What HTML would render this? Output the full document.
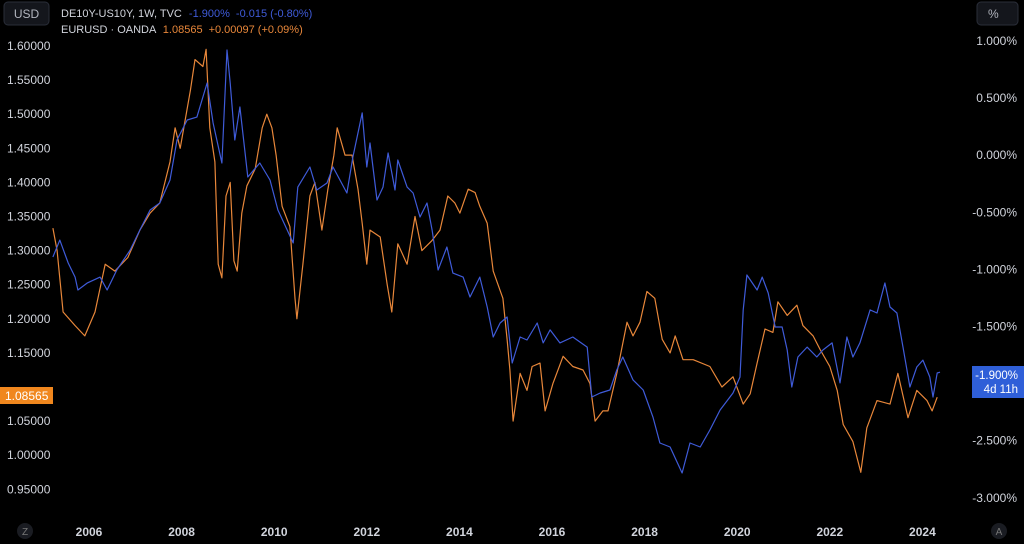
<!DOCTYPE html>
<html><head><meta charset="utf-8"><style>
html,body{margin:0;padding:0;background:#000;}
svg{display:block;font-family:"Liberation Sans",sans-serif;}
</style></head><body>
<svg id="chart" width="1024" height="544" viewBox="0 0 1024 544">
<rect x="0" y="0" width="1024" height="544" fill="#000"/>
<g id="ticks"></g>
<g id="series"></g>
<g>
<rect x="4" y="2" width="45" height="23" rx="4" fill="#14161c" stroke="#2a2e39"/>
<text x="26.5" y="18" text-anchor="middle" font-size="12" fill="#b2b5be">USD</text></g>
<g>
<rect x="977" y="2" width="41" height="23" rx="4" fill="#14161c" stroke="#2a2e39"/>
<text x="988" y="18" font-size="12" fill="#b2b5be">%</text></g>
<g font-size="11">
<text x="61" y="17" fill="#d1d4dc">DE10Y-US10Y, 1W, TVC <tspan fill="#3f5bd9" dx="4">-1.900%</tspan><tspan fill="#3f5bd9" dx="6">-0.015 (-0.80%)</tspan></text>
<text x="61" y="33" fill="#d1d4dc">EURUSD · OANDA <tspan fill="#e8873a" dx="4">1.08565</tspan><tspan fill="#e8873a" dx="6">+0.00097 (+0.09%)</tspan></text>
</g>
<g>
<rect x="0" y="387" width="53" height="17" fill="#f0871e"/>
<text x="5" y="400" font-size="12" fill="#fff">1.08565</text></g>
<g>
<rect x="972" y="366" width="52" height="32" fill="#2f5fd8"/>
<text x="1018" y="379" text-anchor="end" font-size="11.5" fill="#fff">-1.900%</text>
<text x="1018" y="393" text-anchor="end" font-size="11.5" fill="#fff">4d 11h</text></g>
<g><circle cx="25" cy="531" r="8" fill="#1a1c22"/><text x="25" y="535" text-anchor="middle" font-size="10" fill="#777">Z</text></g>
<g><circle cx="999" cy="531" r="8" fill="#1a1c22"/><text x="999" y="535" text-anchor="middle" font-size="10" fill="#777">A</text></g>
</svg>
<script>
const leftTicks=[1.60,1.55,1.50,1.45,1.40,1.35,1.30,1.25,1.20,1.15,1.10,1.05,1.00,0.95];
const rightTicks=[1.0,0.5,0.0,-0.5,-1.0,-1.5,-2.5,-3.0];
const yearTicks=[2006,2008,2010,2012,2014,2016,2018,2020,2022,2024];
const eurDates=[2005.22,2005.31,2005.44,2005.70,2005.91,2006.13,2006.35,2006.56,2006.84,2007.10,2007.32,2007.53,2007.75,2007.86,2007.97,2008.19,2008.29,2008.46,2008.53,2008.61,2008.72,2008.79,2008.87,2008.96,2009.05,2009.13,2009.20,2009.30,2009.41,2009.59,2009.74,2009.84,2009.95,2010.04,2010.17,2010.34,2010.45,2010.49,2010.62,2010.77,2010.88,2011.03,2011.16,2011.29,2011.36,2011.53,2011.68,2011.81,2011.90,2012.00,2012.07,2012.29,2012.44,2012.54,2012.67,2012.87,2013.04,2013.19,2013.41,2013.58,2013.75,2013.90,2014.01,2014.19,2014.34,2014.44,2014.60,2014.73,2014.94,2015.03,2015.09,2015.16,2015.31,2015.46,2015.57,2015.74,2015.85,2016.02,2016.24,2016.45,2016.67,2016.82,2016.93,2017.10,2017.21,2017.40,2017.62,2017.75,2017.90,2018.05,2018.22,2018.38,2018.55,2018.66,2018.83,2019.05,2019.41,2019.67,2019.91,2020.13,2020.28,2020.43,2020.60,2020.77,2020.88,2021.08,2021.29,2021.42,2021.64,2021.79,2022.00,2022.16,2022.29,2022.50,2022.67,2022.80,2023.02,2023.30,2023.47,2023.69,2023.88,2024.10,2024.21,2024.32];
const eurValues=[1.333,1.30,1.21,1.19,1.175,1.21,1.28,1.27,1.29,1.33,1.355,1.37,1.43,1.48,1.45,1.535,1.58,1.57,1.595,1.48,1.43,1.28,1.26,1.38,1.40,1.285,1.27,1.355,1.395,1.42,1.48,1.50,1.48,1.44,1.365,1.335,1.23,1.20,1.28,1.38,1.40,1.33,1.39,1.44,1.48,1.44,1.44,1.39,1.34,1.28,1.33,1.32,1.25,1.21,1.31,1.28,1.35,1.30,1.315,1.33,1.38,1.37,1.355,1.39,1.385,1.365,1.34,1.27,1.23,1.17,1.125,1.05,1.12,1.095,1.13,1.135,1.065,1.105,1.145,1.13,1.125,1.105,1.05,1.065,1.065,1.12,1.195,1.175,1.195,1.24,1.23,1.17,1.15,1.175,1.14,1.14,1.13,1.10,1.115,1.075,1.09,1.135,1.185,1.18,1.225,1.205,1.22,1.19,1.175,1.155,1.13,1.095,1.045,1.02,0.975,1.04,1.08,1.075,1.12,1.055,1.095,1.08,1.065,1.085];
const spreadDates=[2005.22,2005.37,2005.55,2005.70,2005.76,2005.96,2006.24,2006.39,2006.60,2006.89,2007.10,2007.32,2007.53,2007.75,2007.90,2008.12,2008.33,2008.55,2008.68,2008.87,2008.98,2009.05,2009.15,2009.26,2009.43,2009.69,2009.91,2010.08,2010.28,2010.41,2010.51,2010.77,2010.92,2011.14,2011.27,2011.57,2011.70,2011.90,2012.00,2012.07,2012.22,2012.35,2012.46,2012.61,2012.67,2012.87,2013.00,2013.15,2013.30,2013.41,2013.54,2013.73,2013.86,2014.08,2014.23,2014.44,2014.60,2014.73,2014.88,2015.03,2015.14,2015.31,2015.46,2015.68,2015.81,2015.96,2016.17,2016.45,2016.76,2016.86,2017.04,2017.25,2017.40,2017.53,2017.75,2017.97,2018.18,2018.33,2018.55,2018.81,2018.98,2019.20,2019.41,2019.63,2019.91,2020.06,2020.13,2020.21,2020.43,2020.54,2020.67,2020.82,2020.97,2021.08,2021.18,2021.31,2021.51,2021.72,2021.85,2022.05,2022.22,2022.37,2022.50,2022.65,2022.87,2023.02,2023.19,2023.30,2023.45,2023.58,2023.73,2023.88,2024.01,2024.16,2024.23,2024.32,2024.38];
const spreadValues=[-0.891,-0.743,-0.944,-1.067,-1.18,-1.12,-1.067,-1.18,-1.005,-0.83,-0.655,-0.48,-0.419,-0.217,0.133,0.308,0.334,0.632,0.282,-0.068,0.921,0.632,0.133,0.422,-0.191,-0.068,-0.217,-0.48,-0.655,-0.769,-0.279,-0.103,-0.305,-0.243,-0.103,-0.331,-0.016,0.37,-0.103,0.107,-0.392,-0.279,0.019,-0.305,-0.042,-0.279,-0.331,-0.541,-0.419,-0.655,-1.005,-0.804,-1.032,-1.067,-1.242,-1.067,-1.329,-1.592,-1.469,-1.417,-1.82,-1.592,-1.618,-1.469,-1.644,-1.53,-1.644,-1.592,-1.68,-2.117,-2.082,-2.056,-1.881,-1.767,-1.968,-2.056,-2.292,-2.52,-2.555,-2.783,-2.52,-2.555,-2.406,-2.231,-2.082,-1.942,-1.355,-1.049,-1.18,-1.067,-1.207,-1.504,-1.504,-1.706,-2.03,-1.767,-1.68,-1.767,-1.706,-1.644,-1.994,-1.592,-1.767,-1.644,-1.355,-1.382,-1.119,-1.329,-1.382,-1.68,-2.03,-1.855,-1.794,-1.942,-2.117,-1.907,-1.90];

const NS='http://www.w3.org/2000/svg';
function xScale(yr){return 89+(yr-2006)*46.3;}
function yLeft(v){return 46+(1.60-v)/0.05*34.1;}
function yRight(p){return 41+(1.0-p)/0.5*57.1;}

const ticks=document.getElementById('ticks');
leftTicks.forEach(function(v){
  if(v===1.10) return;
  const t=document.createElementNS(NS,'text');
  
  
  t.setAttribute('x',7);t.setAttribute('y',yLeft(v)+4);
  t.setAttribute('font-size','12');t.setAttribute('fill','#d1d4dc');
  t.textContent=v.toFixed(5);ticks.appendChild(t);
});
rightTicks.forEach(function(p){
  const t=document.createElementNS(NS,'text');
  
  
  t.setAttribute('x',1017);t.setAttribute('y',yRight(p)+4);
  t.setAttribute('text-anchor','end');
  t.setAttribute('font-size','12');t.setAttribute('fill','#d1d4dc');
  t.textContent=p.toFixed(3)+'%';ticks.appendChild(t);
});
yearTicks.forEach(function(yr){
  const t=document.createElementNS(NS,'text');
  
  
  t.setAttribute('x',xScale(yr));t.setAttribute('y',536);
  t.setAttribute('text-anchor','middle');t.setAttribute('font-weight','bold');
  t.setAttribute('font-size','12');t.setAttribute('fill','#d1d4dc');
  t.textContent=yr;ticks.appendChild(t);
});
const series=document.getElementById('series');
function line(dates,vals,yf,color,name){
  const p=document.createElementNS(NS,'path');
  let d='';
  for(let i=0;i<dates.length;i++){d+=(i?'L':'M')+xScale(dates[i]).toFixed(1)+','+yf(vals[i]).toFixed(1);}
  p.setAttribute('d',d);p.setAttribute('fill','none');p.setAttribute('stroke',color);
  p.setAttribute('stroke-width','1.2');p.setAttribute('stroke-linejoin','round');
  
  
  series.appendChild(p);
}
line(eurDates,eurValues,yLeft,'#e8873a','eurusd-line');
line(spreadDates,spreadValues,yRight,'#3f5bd9','de-us-spread-line');
</script>
</body></html>
